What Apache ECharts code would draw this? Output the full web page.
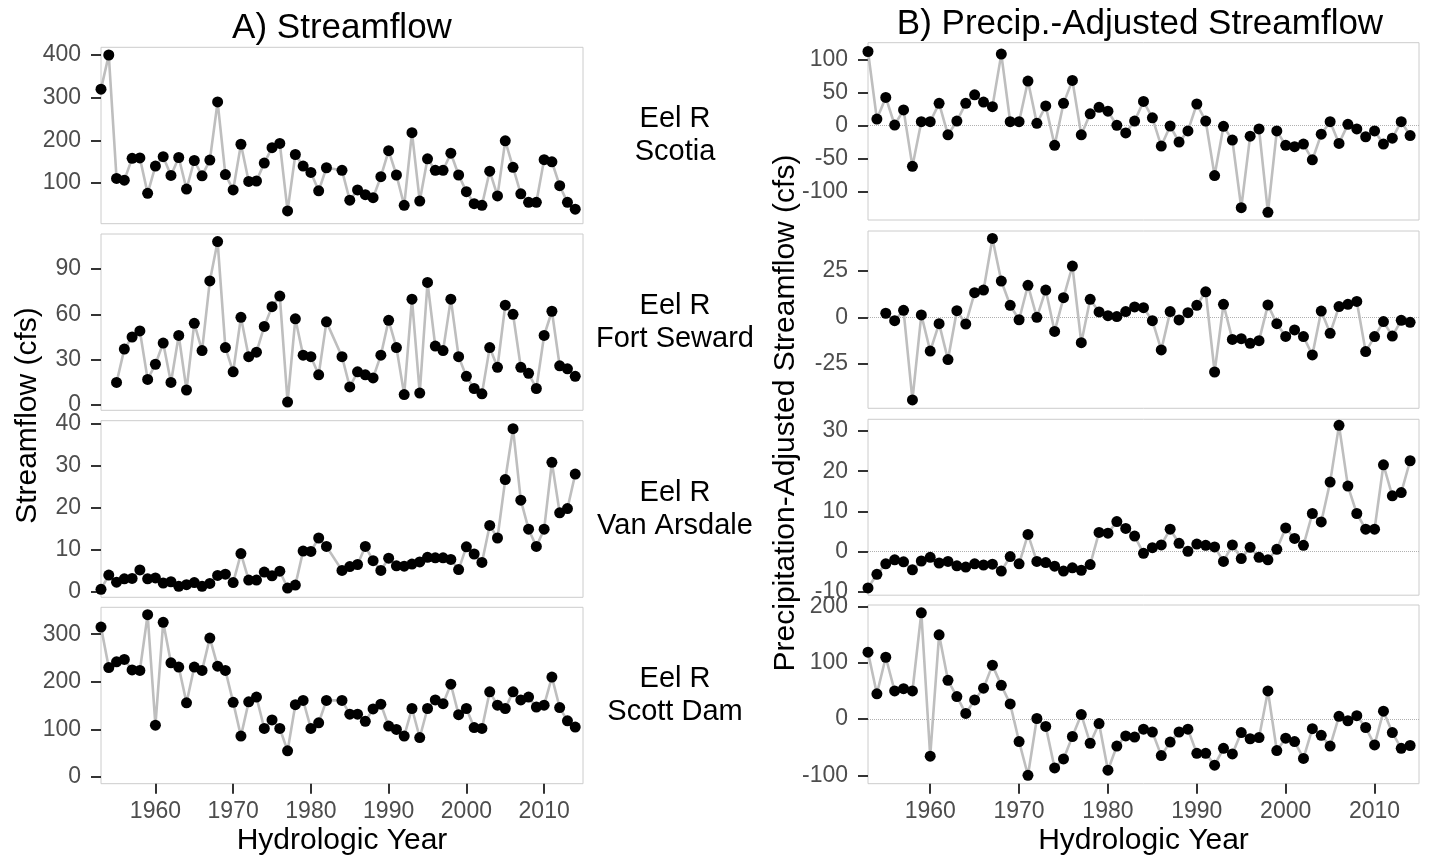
<!DOCTYPE html>
<html>
<head>
<meta charset="utf-8">
<script src="https://cdn.jsdelivr.net/npm/echarts@6/dist/echarts.min.js"></script>
<style>
html,body{margin:0;padding:0;background:#ffffff;}
#chart{width:1431px;height:861px;}
</style>
</head>
<body>
<div id="chart"></div>
<script>
// ---------------- DATA ----------------
const YEARS = [1953,1954,1955,1956,1957,1958,1959,1960,1961,1962,1963,1964,1965,1966,1967,1968,1969,1970,
  1971,1972,1973,1974,1975,1976,1977,1978,1979,1980,1981,1982,1983,1984,1985,1986,1987,1988,1989,1990,
  1991,1992,1993,1994,1995,1996,1997,1998,1999,2000,2001,2002,2003,2004,2005,2006,2007,2008,2009,2010,
  2011,2012,2013,2014];

const STATIONS = ["Eel R\nScotia", "Eel R\nFort Seward", "Eel R\nVan Arsdale", "Eel R\nScott Dam"];

// A) Streamflow (cfs)
const SCOTIA_Q = [320,400,111,107,158,159,76,140,162,118,160,86,153,117,154,290,120,84,
  191,104,105,147,183,193,35,167,140,125,82,136,null,130,60,84,73,66,115,176,
  119,48,218,58,157,130,130,170,119,80,52,48,128,70,199,137,75,55,55,155,
  150,94,55,39];
const FORTSEWARD_Q = [null,null,15,37,45,49,17,27,41,15,46,10,54,36,82,108,38,22,
  58,32,35,52,65,72,2,57,33,32,20,55,null,32,12,22,20,18,33,56,
  38,7,70,8,81,39,36,70,32,19,11,7.5,38,25,66,60,25,21,11,46,
  62,26,24,19];
const VANARSDALE_Q = [0.6,4.0,2.3,3.1,3.2,5.2,3.1,3.3,2.1,2.4,1.3,1.7,2.2,1.3,2.0,3.9,4.2,2.2,
  9.1,2.8,2.8,4.7,3.8,4.9,0.9,1.6,9.7,9.6,12.8,10.8,null,5.1,6.0,6.5,10.8,7.4,5.1,8.0,
  6.2,6.1,6.6,7.1,8.2,8.1,8.1,7.7,5.3,10.7,9.0,7.0,15.8,12.8,26.7,38.8,21.8,14.9,10.8,14.9,
  30.8,18.8,19.8,28.0];
const SCOTTDAM_Q = [315,230,242,247,225,224,341,109,325,240,231,156,231,224,292,233,224,157,
  86,158,168,102,120,102,55,152,161,102,114,161,null,161,132,132,117,143,153,107,
  100,86,144,83,144,162,154,195,131,144,104,102,179,151,144,179,162,168,147,151,
  210,146,118,105];

// B) Precipitation-adjusted streamflow (cfs)
const SCOTIA_ADJ = [113,10,43,1,24,-62,6,6,34,-14,7,34,47,36,29,109,6,6,
  68,3.5,30,-30,34,69,-14,18,28,22,0.5,-11,7,37,12,-31,-0.5,-25,-8,33,
  7,-76,-1,-22,-125,-16,-5,-132,-8,-30,-32,-28,-52,-13,6,-27,2,-5,-17,-8,
  -28,-19,6,-15];
const FORTSEWARD_ADJ = [null,null,2.2,-1.8,3.8,-44.6,1.3,-18.2,-3.4,-22.8,3.6,-3.6,13.3,14.7,42.6,19.6,6.5,-1.3,
  17.3,0,14.7,-7.6,10.6,27.7,-13.7,9.7,2.9,0.9,0.4,3.1,5.6,5.2,-1.8,-17.6,3.1,-1.4,2.5,6.5,
  13.8,-29.5,7,-11.9,-11.5,-14,-12.6,6.7,-3.4,-10.3,-6.8,-10.4,-20.3,3.4,-8.6,5.8,7,8.6,-18.5,-10.4,
  -2.3,-10.1,-1.6,-2.7];
const VANARSDALE_ADJ = [-9,-5.6,-3,-2,-2.5,-4.5,-2.3,-1.4,-2.8,-2.4,-3.5,-3.8,-3,-3.3,-3.1,-4.8,-1.2,-3,
  4.3,-2.4,-2.7,-3.6,-4.8,-4,-4.6,-3.2,4.8,4.6,7.5,5.8,3.9,-0.4,1,1.7,5.6,2.1,0.1,1.9,
  1.6,1.2,-2.4,1.7,-1.7,1.1,-1.4,-2,0.6,5.9,3.3,1.6,9.5,7.4,17.3,31.4,16.3,9.5,5.6,5.6,
  21.6,13.9,14.7,22.6];
const SCOTTDAM_ADJ = [119,45,110,50,54,50,189,-66,150,69,40,10,34,55,96,60,27,-40,
  -100,1,-13,-87,-71,-31,8,-43,-8,-91,-48,-30,-32,-18,-23,-65,-41,-23,-18,-61,
  -61,-82,-52,-62,-24,-35,-33,50,-56,-34,-40,-70,-17,-29,-48,5,-3,6,-15,-46,
  14,-24,-52,-47];

// tick labels
const X_TICKS = [1960,1970,1980,1990,2000,2010];
const Y_TICKS_SCOTIA_Q = [100,200,300,400];
const Y_TICKS_FORTSEWARD_Q = [0,30,60,90];
const Y_TICKS_VANARSDALE_Q = [0,10,20,30,40];
const Y_TICKS_SCOTTDAM_Q = [0,100,200,300];
const Y_TICKS_SCOTIA_ADJ = [-100,-50,0,50,100];
const Y_TICKS_FORTSEWARD_ADJ = [-25,0,25];
const Y_TICKS_VANARSDALE_ADJ = [-10,0,10,20,30];
const Y_TICKS_SCOTTDAM_ADJ = [-100,0,100,200];

const TITLE_A = "A) Streamflow";
const TITLE_B = "B) Precip.-Adjusted Streamflow";
const YLAB_A = "Streamflow (cfs)";
const YLAB_B = "Precipitation-Adjusted Streamflow (cfs)";
const XLAB = "Hydrologic Year";

// ---------------- LAYOUT ----------------
const FONT = "'Liberation Sans', Arial, Helvetica, sans-serif";
const panels = [
  {vals: SCOTIA_Q,       ticks: Y_TICKS_SCOTIA_Q,       min: 5,      max: 418,   left: 101, top: 47.3,  width: 482, height: 176.4, bottom: false, zero: false},
  {vals: FORTSEWARD_Q,   ticks: Y_TICKS_FORTSEWARD_Q,   min: -3.4,   max: 113,   left: 101, top: 234,   width: 482, height: 176.3, bottom: false, zero: false},
  {vals: VANARSDALE_Q,   ticks: Y_TICKS_VANARSDALE_Q,   min: -1.3,   max: 40.7,  left: 101, top: 420.7, width: 482, height: 176.6, bottom: false, zero: false},
  {vals: SCOTTDAM_Q,     ticks: Y_TICKS_SCOTTDAM_Q,     min: -14,    max: 356.6, left: 101, top: 607.3, width: 482, height: 176.4, bottom: true,  zero: false},
  {vals: SCOTIA_ADJ,     ticks: Y_TICKS_SCOTIA_ADJ,     min: -143.7, max: 126.4, left: 868, top: 42.7,  width: 551, height: 177.3, bottom: false, zero: true},
  {vals: FORTSEWARD_ADJ, ticks: Y_TICKS_FORTSEWARD_ADJ, min: -49.1,  max: 46.6,  left: 868, top: 231,   width: 551, height: 177.3, bottom: false, zero: true},
  {vals: VANARSDALE_ADJ, ticks: Y_TICKS_VANARSDALE_ADJ, min: -10.8,  max: 32.9,  left: 868, top: 419.3, width: 551, height: 175.9, bottom: false, zero: true},
  {vals: SCOTTDAM_ADJ,   ticks: Y_TICKS_SCOTTDAM_ADJ,   min: -115,   max: 203,   left: 868, top: 605,   width: 551, height: 178.7, bottom: true,  zero: true}
];

const grids = [], xAxes = [], yAxes = [], series = [];
panels.forEach((p, i) => {
  grids.push({
    left: p.left, top: p.top, width: p.width, height: p.height,
    show: true, borderColor: '#cccccc', borderWidth: 1, backgroundColor: '#ffffff',
    containLabel: false, outerBoundsMode: 'none'
  });
  xAxes.push({
    gridIndex: i, type: 'value', min: 1953, max: 2015, position: 'bottom',
    axisLine: {show: false, onZero: false}, splitLine: {show: false},
    axisTick: p.bottom ? {show: true, customValues: X_TICKS, length: 10, inside: false,
      lineStyle: {color: '#333333', width: 2}} : {show: false},
    axisLabel: p.bottom ? {show: true, customValues: X_TICKS, formatter: v => String(v),
      color: '#4d4d4d', fontSize: 23, fontFamily: FONT, margin: 16} : {show: false}
  });
  yAxes.push({
    gridIndex: i, type: 'value', min: p.min, max: p.max, position: 'left',
    axisLine: {show: false, onZero: false}, splitLine: {show: false},
    axisTick: {show: true, customValues: p.ticks, length: 10, inside: false,
      lineStyle: {color: '#333333', width: 2}},
    axisLabel: {show: true, customValues: p.ticks, formatter: v => String(v),
      color: '#4d4d4d', fontSize: 23, fontFamily: FONT, margin: 20}
  });
  const pts = [];
  YEARS.forEach((y, k) => { if (p.vals[k] !== null && p.vals[k] !== undefined) pts.push([y, p.vals[k]]); });
  const s = {
    type: 'line', xAxisIndex: i, yAxisIndex: i, data: pts,
    symbol: 'circle', symbolSize: 11, showSymbol: true, showAllSymbol: true,
    itemStyle: {color: '#000000'},
    lineStyle: {color: '#bebebe', width: 2.6},
    clip: true, animation: false, silent: true, z: 3
  };
  if (p.zero) {
    s.markLine = {
      silent: true, symbol: 'none', animation: false, z: 1,
      label: {show: false},
      lineStyle: {type: 'dotted', color: '#b0b0b0', width: 1},
      data: [{yAxis: 0}]
    };
  }
  series.push(s);
});

const graphics = [];
function txt(text, x, y, size, opts) {
  const o = Object.assign({rotation: 0, lineHeight: null, color: '#000000'}, opts || {});
  const style = {
    text: text, fill: o.color, fontSize: size, fontFamily: FONT,
    align: 'center', verticalAlign: 'middle', textAlign: 'center', textVerticalAlign: 'middle'
  };
  if (o.lineHeight) style.lineHeight = o.lineHeight;
  graphics.push({type: 'text', x: x, y: y, rotation: o.rotation, style: style, silent: true, z: 10});
}
txt(TITLE_A, 342, 28, 35);
txt(TITLE_B, 1140, 24, 35);
txt(YLAB_A, 28, 415.5, 30, {rotation: Math.PI / 2});
txt(YLAB_B, 786, 413, 30, {rotation: Math.PI / 2});
txt(XLAB, 342, 841, 30);
txt(XLAB, 1143.5, 841, 30);
for (let i = 0; i < 4; i++) {
  const p = panels[i];
  txt(STATIONS[i], 675, p.top + p.height / 2, 29, {lineHeight: 33});
}

const chart = echarts.init(document.getElementById('chart'), null, {renderer: 'canvas'});
chart.setOption({
  animation: false,
  backgroundColor: '#ffffff',
  grid: grids,
  xAxis: xAxes,
  yAxis: yAxes,
  series: series,
  graphic: graphics
});
</script>
</body>
</html>
